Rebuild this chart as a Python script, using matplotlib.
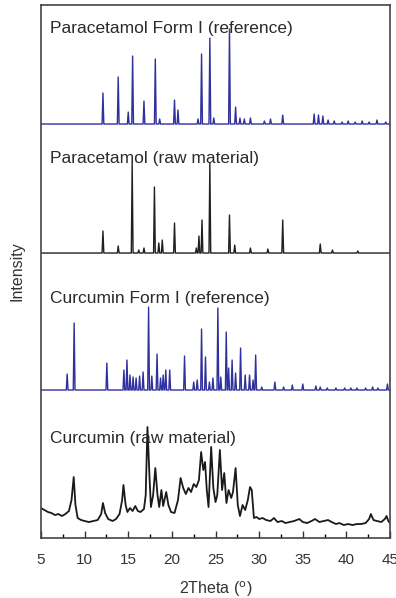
import matplotlib.pyplot as plt
from matplotlib.ticker import MultipleLocator

plt.rcParams['font.family'] = ['Liberation Sans', 'DejaVu Sans']

# peak lists (2theta, relative intensity) for the sharp patterns
para_ref_pos = [12.1, 13.85, 15.0, 15.5, 16.8, 18.1, 18.6, 20.3, 20.7, 23.0, 23.4, 24.35, 24.8,
                26.6, 27.3, 27.8, 28.3, 29.0, 30.6, 31.3, 32.7, 36.3, 36.8, 37.3, 37.9, 38.6,
                39.5, 40.2, 41.0, 41.8, 42.6, 43.5, 44.5]
para_ref_int = [31, 47, 12, 68, 23, 65, 5, 24, 14, 5, 70, 86, 6,
                95, 17, 6, 5, 6, 3, 5, 9, 10, 9, 8, 4, 3,
                2, 3, 2, 3, 2, 4, 2]

para_raw_pos = [12.1, 13.85, 15.45, 16.2, 16.8, 18.0, 18.5, 18.9, 20.3, 22.8, 23.1, 23.45,
                24.35, 26.6, 27.2, 29.0, 31.0, 32.7, 37.0, 38.4, 41.3]
para_raw_int = [22, 7, 90, 3, 5, 66, 10, 13, 30, 5, 17, 33,
                90, 38, 8, 5, 4, 33, 9, 3, 2]

curc_ref_pos = [8.0, 8.8, 12.55, 14.5, 14.85, 15.2, 15.55, 15.9, 16.3, 16.7, 17.33, 17.7,
                18.3, 18.7, 19.0, 19.3, 19.75, 21.45, 22.5, 22.9, 23.4, 23.85, 24.3, 24.7,
                25.27, 25.6, 26.23, 26.5, 26.9, 27.3, 27.87, 28.4, 28.9, 29.3, 29.6, 30.3,
                31.8, 32.8, 33.8, 35.0, 36.5, 37.0, 37.8, 38.8, 39.8, 40.5, 41.2, 42.2,
                43.0, 43.6, 44.7]
curc_ref_int = [16, 67, 27, 20, 30, 15, 13, 12, 14, 18, 83, 14,
                36, 12, 15, 20, 20, 34, 8, 10, 61, 33, 8, 12,
                82, 13, 58, 22, 30, 17, 42, 15, 15, 10, 35, 3,
                8, 3, 5, 6, 4, 3, 2, 2, 2, 2, 2, 2,
                3, 2, 6]

# raw curcumin trace, read point by point
curc_raw_x = [5.0, 5.4, 5.8, 6.2, 6.6, 7.0, 7.4, 7.8, 8.2, 8.5, 8.75, 8.95, 9.2, 9.6, 10.0,
              10.5, 11.0, 11.5, 11.9, 12.1, 12.35, 12.7, 13.2, 13.6, 14.0, 14.3, 14.45, 14.7,
              14.9, 15.2, 15.5, 15.8, 16.1, 16.4, 16.8, 17.0, 17.2, 17.45, 17.6, 17.85, 18.1,
              18.35, 18.55, 18.8, 19.0, 19.35, 19.6, 19.9, 20.3, 20.7, 21.0, 21.3, 21.6, 21.9,
              22.2, 22.5, 22.8, 23.1, 23.35, 23.6, 23.8, 24.0, 24.2, 24.5, 24.75, 25.0, 25.2,
              25.5, 25.75, 26.0, 26.25, 26.5, 26.8, 27.0, 27.3, 27.55, 27.8, 28.1, 28.4, 28.7,
              28.95, 29.15, 29.4, 29.7, 30.0, 30.4, 30.8, 31.3, 31.7, 32.1, 32.6, 33.0, 33.5,
              34.0, 34.6, 35.0, 35.5, 36.0, 36.4, 36.9, 37.4, 37.9, 38.3, 38.8, 39.2, 39.7,
              40.2, 40.7, 41.2, 41.7, 42.2, 42.6, 42.8, 43.1, 43.5, 44.0, 44.4, 44.6, 44.8, 45.0]
curc_raw_y = [30, 28, 26, 25, 23, 24, 22, 24, 27, 38, 61, 33, 20, 18, 17,
              16, 17, 18, 24, 35, 25, 19, 17, 19, 24, 38, 53, 33,
              26, 30, 27, 32, 27, 26, 29, 43, 111, 58, 31, 43, 70,
              43, 31, 48, 32, 46, 33, 26, 25, 38, 60, 50, 44, 50,
              46, 54, 51, 58, 86, 68, 76, 48, 31, 91, 50, 36, 43,
              88, 48, 65, 35, 48, 40, 46, 70, 33, 22, 33, 28, 38,
              51, 48, 20, 21, 19, 20, 18, 17, 20, 16, 17, 15, 16,
              17, 19, 16, 15, 17, 19, 16, 17, 18, 16, 14, 15, 13,
              14, 13, 14, 14, 15, 19, 24, 18, 17, 16, 19, 22, 17, 15]

offsets = [414, 285, 148, 0]
labels = ['Paracetamol Form I (reference)', 'Paracetamol (raw material)',
          'Curcumin Form I (reference)', 'Curcumin (raw material)']
label_y = [510, 380, 240, 100]


# turn a peak list into a spiky line on a flat baseline
def peaks_to_line(pos, inten, half=0.1):
    xs = [5.0]
    ys = [0.0]
    for p, h in zip(pos, inten):
        xs += [p - half, p, p + half]
        ys += [0.0, h, 0.0]
    xs.append(45.0)
    ys.append(0.0)
    return xs, ys


fig = plt.figure(figsize=(3.96, 5.98), dpi=100)
ax = fig.add_axes([0.1035, 0.1003, 0.8815, 0.8913])

blue = '#30309e'
x1, y1 = peaks_to_line(para_ref_pos, para_ref_int)
ax.plot(x1, [v + offsets[0] for v in y1], color=blue, lw=1.0)
x2, y2 = peaks_to_line(para_raw_pos, para_raw_int)
ax.plot(x2, [v + offsets[1] for v in y2], color='#202020', lw=1.0)
x3, y3 = peaks_to_line(curc_ref_pos, curc_ref_int)
ax.plot(x3, [v + offsets[2] for v in y3], color=blue, lw=1.0)
ax.plot(curc_raw_x, [v + offsets[3] for v in curc_raw_y], color='#1a1a1a', lw=1.3)

for lab, ly in zip(labels, label_y):
    ax.text(6.0, ly, lab, fontsize=12.5, color='#2a2a2a', va='center', ha='left')

ax.set_xlim(5, 45)
ax.set_ylim(0, 533)
ax.xaxis.set_major_locator(MultipleLocator(5))
ax.xaxis.set_minor_locator(MultipleLocator(2.5))
ax.tick_params(axis='x', which='major', direction='in', length=5, width=1, labelsize=11,
               colors='#333333', top=False, pad=11)
ax.tick_params(axis='x', which='minor', direction='in', length=3, width=1, top=False)
ax.set_yticks([])
for s in ax.spines.values():
    s.set_color('#444444')
    s.set_linewidth(1.2)

ax.set_xlabel('2Theta ($^{\\mathrm{o}}$)', fontsize=11.5, color='#333333', labelpad=9)
ax.set_ylabel('Intensity', fontsize=11.5, color='#333333', labelpad=12)

plt.savefig('out.png', dpi=100)
